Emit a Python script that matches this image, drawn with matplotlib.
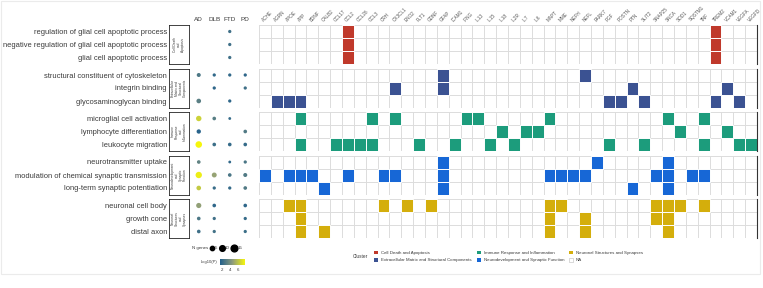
import numpy as np
import matplotlib
matplotlib.use("Agg")
import matplotlib.pyplot as plt
from matplotlib.colors import LinearSegmentedColormap, Normalize
from matplotlib.cm import ScalarMappable
from matplotlib.patches import Patch, Rectangle
from matplotlib.lines import Line2D

plt.rcParams["font.family"] = ["Liberation Sans", "DejaVu Sans"]

# ---- data ----
GENES = ["ACHE", "AGRN", "APOE", "APP", "BDNF", "CALB2", "CCL17", "CCL2", "CCL26", "CCL3",
         "CRH", "CX3CL1", "ENO2", "FLT1", "GDNF", "GFAP", "ICAM1", "IFNG", "IL13", "IL15",
         "IL18", "IL2R", "IL7", "IL6", "MAPT", "MME", "NEFH", "NEFL", "PARK7", "PGF",
         "POSTN", "PTN", "SLIT2", "SNAP25", "SNCA", "SOD1", "SQSTM1", "TNF", "TREM2", "VCAM1",
         "VEGFA", "VEGFD"]

TERMS = ["regulation of glial cell apoptotic process",
         "negative regulation of glial cell apoptotic process",
         "glial cell apoptotic process",
         "structural constituent of cytoskeleton",
         "integrin binding",
         "glycosaminoglycan binding",
         "microglial cell activation",
         "lymphocyte differentiation",
         "leukocyte migration",
         "neurotransmitter uptake",
         "modulation of chemical synaptic transmission",
         "long-term synaptic potentiation",
         "neuronal cell body",
         "growth cone",
         "distal axon"]

CLUSTERS = ["Cell Death and Apoptosis",
            "Extracellular Matrix and Structural Components",
            "Immune Response and Inflammation",
            "Neurodevelopment and Synaptic Function",
            "Neuronal Structures and Synapses"]
CLUSTER_BOX = ["Cell Death\nand\nApoptosis",
               "Extracellular\nMatrix and\nStructural\nComponents",
               "Immune\nResponse\nand\nInflammation",
               "Neurodevelopment\nand\nSynaptic\nFunction",
               "Neuronal\nStructures\nand\nSynapses"]
CLUSTER_COLORS = ["#C0392B", "#3B5292", "#1C9C7C", "#1767D6", "#D4AE0C"]

TERM_GENES = [
    ["CCL2", "TREM2"],
    ["CCL2", "TREM2"],
    ["CCL2", "TREM2"],
    ["GFAP", "NEFL"],
    ["CX3CL1", "GFAP", "PTN", "VCAM1"],
    ["AGRN", "APOE", "APP", "PGF", "POSTN", "SLIT2", "TREM2", "VEGFA"],
    ["APP", "CCL3", "CX3CL1", "IFNG", "IL13", "MAPT", "SNCA", "TNF"],
    ["IL18", "IL7", "IL6", "SOD1", "VCAM1"],
    ["APP", "CCL17", "CCL2", "CCL26", "CCL3", "FLT1", "ICAM1", "IL15", "IL2R", "PGF",
     "SLIT2", "TNF", "VEGFA", "VEGFD"],
    ["GFAP", "PARK7", "SNCA"],
    ["ACHE", "APOE", "APP", "BDNF", "CCL2", "CRH", "CX3CL1", "GFAP", "MAPT", "MME",
     "NEFH", "NEFL", "SNAP25", "SNCA", "SQSTM1", "TNF"],
    ["CALB2", "GFAP", "PTN", "SNCA"],
    ["APOE", "APP", "CRH", "ENO2", "GDNF", "MAPT", "MME", "SNAP25", "SNCA", "SOD1", "TNF"],
    ["APP", "MAPT", "NEFL", "SNAP25", "SNCA"],
    ["APP", "CALB2", "MAPT", "NEFL", "SNCA"],
]

DISEASES = ["AD", "DLB", "FTD", "PD"]
AD_N = [0, 0, 0, 4, 0, 6, 9, 5, 14, 3, 13, 6, 8, 3, 3]
AD_P = [0, 0, 0, 2.7, 0, 3.1, 6.6, 1.6, 7.9, 3.3, 7.6, 6.3, 4.8, 2.7, 2.3]
DLB_N = [0, 0, 0, 2, 2, 0, 3, 0, 3, 0, 7, 2, 3, 2, 2]
DLB_P = [0, 0, 0, 1.9, 1.8, 0, 3.0, 0, 2.2, 0, 4.9, 2.1, 1.8, 2.3, 2.4]
FTD_N = [2, 2, 2, 2, 0, 2, 1, 0, 3, 1, 3, 2, 0, 0, 0]
FTD_P = [2.3, 2.3, 2.3, 1.9, 0, 1.8, 2.0, 0, 2.0, 1.9, 2.6, 2.0, 0, 0, 0]
PD_N = [0, 0, 0, 2, 2, 0, 0, 3, 3, 2, 4, 3, 3, 2, 2]
PD_P = [0, 0, 0, 1.8, 2.3, 0, 0, 2.8, 2.0, 2.6, 2.8, 2.8, 1.8, 2.0, 2.2]
SIZE_BREAKS = [5, 10, 15]
P_TICKS = [2, 4, 6]

# ---- styling ----
W, H = 763, 288
TXT = "#3A3A3A"
GRID = "#DCDCDC"
cmap = LinearSegmentedColormap.from_list("p", ["#22608C", "#8E9C7C", "#F6F60C"])
norm = Normalize(1.4, 7.9)


def area(n):
    # marker area in pt^2 (diameter ~4.3px at 5 genes, ~6.8px at 15)
    a_px = 8 + 2.7 * (np.asarray(n, float) - 1)
    return a_px / (100 / 72) ** 2


fig = plt.figure(figsize=(W / 100, H / 100), dpi=100)


def px_axes(x0, y0, x1, y1):
    return fig.add_axes([x0 / W, 1 - y1 / H, (x1 - x0) / W, (y1 - y0) / H])


fig.patches.append(Rectangle((1 / W, 1 - 274 / H), 759 / W, 273 / H, transform=fig.transFigure,
                             fill=False, edgecolor="#EBEBEB", linewidth=0.8))

group_tops = [25, 68.5, 112, 155.5, 199]
group_h = 39
disease_n = [AD_N, DLB_N, FTD_N, PD_N]
disease_p = [AD_P, DLB_P, FTD_P, PD_P]

for g, top in enumerate(group_tops):
    rows = [i for i in range(len(TERMS)) if i // 3 == g]

    # heatmap
    hax = px_axes(259, top, 757, top + group_h)
    hax.set_xlim(-0.5, len(GENES) - 0.5)
    hax.set_ylim(len(rows) - 0.5, -0.5)
    hax.set_xticks(np.arange(-0.5, len(GENES)), minor=True)
    hax.set_yticks(np.arange(-0.5, len(rows)), minor=True)
    hax.grid(which="minor", color=GRID, linewidth=0.7)
    hax.set_axisbelow(True)
    hax.tick_params(which="both", length=0)
    for r, i in enumerate(rows):
        cols = [GENES.index(x) for x in TERM_GENES[i]]
        hax.bar(cols, 1, bottom=r - 0.5, width=1, color=CLUSTER_COLORS[g],
                edgecolor="white", linewidth=0.7, zorder=2)
    hax.set_yticks([])
    if g == 0:
        hax.xaxis.tick_top()
        hax.set_xticks(range(len(GENES)))
        hax.set_xticklabels(GENES, rotation=45, ha="left", rotation_mode="anchor",
                            fontsize=3.3, color="#555555")
        hax.tick_params(axis="x", pad=2, length=0)
    else:
        hax.set_xticks([])
    for s in ["top", "bottom", "left"]:
        hax.spines[s].set_visible(False)
    hax.spines["right"].set_color("#333333")
    hax.spines["right"].set_linewidth(0.8)

    # dot plot
    dax = px_axes(191, top, 253, top + group_h)
    dax.set_xlim(-0.5, 3.5)
    dax.set_ylim(len(rows) - 0.5, -0.5)
    for d in range(len(DISEASES)):
        ys = [r for r, i in enumerate(rows) if disease_n[d][i] > 0]
        ns = [disease_n[d][i] for i in rows if disease_n[d][i] > 0]
        ps = [disease_p[d][i] for i in rows if disease_n[d][i] > 0]
        if ys:
            dax.scatter([d] * len(ys), ys, s=area(ns), c=ps, cmap=cmap, norm=norm,
                        linewidths=0, zorder=3)
    for s in dax.spines.values():
        s.set_visible(False)
    dax.set_yticks([])
    if g == 0:
        dax.xaxis.tick_top()
        dax.set_xticks(range(len(DISEASES)))
        dax.set_xticklabels(DISEASES, fontsize=4.6, color=TXT)
        dax.tick_params(axis="x", length=0, pad=2)
    else:
        dax.set_xticks([])

    # cluster box with term labels
    bax = px_axes(169, top, 189, top + group_h)
    bax.set_xlim(0, 1)
    bax.set_ylim(len(rows) - 0.5, -0.5)
    bax.set_xticks([])
    bax.set_yticks(range(len(rows)))
    bax.set_yticklabels([TERMS[i] for i in rows], fontsize=5.45, color=TXT)
    bax.tick_params(axis="y", length=0, pad=1.5)
    for s in bax.spines.values():
        s.set_linewidth(0.6)
        s.set_color("#222222")
    bax.text(0.5, 0.5, CLUSTER_BOX[g], transform=bax.transAxes, rotation=90,
             ha="center", va="center", fontsize=2.3, color=TXT, linespacing=1.0)

# size legend
size_handles = [Line2D([], [], marker="o", linestyle="", color="black",
                       markersize=np.sqrt(area(n))) for n in SIZE_BREAKS]
fig.text(208 / W, 1 - 248 / H, "N genes", fontsize=3.2, color=TXT, ha="right", va="center")
fig.legend(size_handles, [str(n) for n in SIZE_BREAKS], ncol=3, loc="center left",
           bbox_to_anchor=(208 / W, 1 - 248 / H), frameon=False, fontsize=3.2,
           handlelength=0.8, handletextpad=0.3, columnspacing=0.6, borderpad=0,
           labelcolor=TXT)

# colour bar
cax = px_axes(220, 259, 245, 265)
cb = fig.colorbar(ScalarMappable(norm=norm, cmap=cmap), cax=cax, orientation="horizontal")
cb.outline.set_visible(False)
cb.set_ticks(P_TICKS)
cax.tick_params(labelsize=3.2, length=1.2, width=0.3, color="white", pad=0.8, labelcolor=TXT)
cax.text(-0.08, 0.5, "-log10(P)", transform=cax.transAxes, ha="right", va="center",
         fontsize=3.0, color=TXT)

# cluster legend
cl_handles = [Patch(facecolor=c, edgecolor="none") for c in CLUSTER_COLORS]
cl_handles.append(Patch(facecolor="white", edgecolor="#BBBBBB", linewidth=0.4))
fig.legend(cl_handles, CLUSTERS + ["NA"], ncol=3, loc="center left",
           bbox_to_anchor=(372 / W, 1 - 256.5 / H), frameon=False, fontsize=3.2,
           handlelength=0.9, handleheight=0.9, handletextpad=0.6, columnspacing=1.2,
           labelspacing=0.6, borderpad=0, labelcolor=TXT)
fig.text(368 / W, 1 - 257 / H, "Cluster", fontsize=3.4, color=TXT, ha="right", va="center")

fig.savefig("out.png", dpi=100, facecolor="white")
